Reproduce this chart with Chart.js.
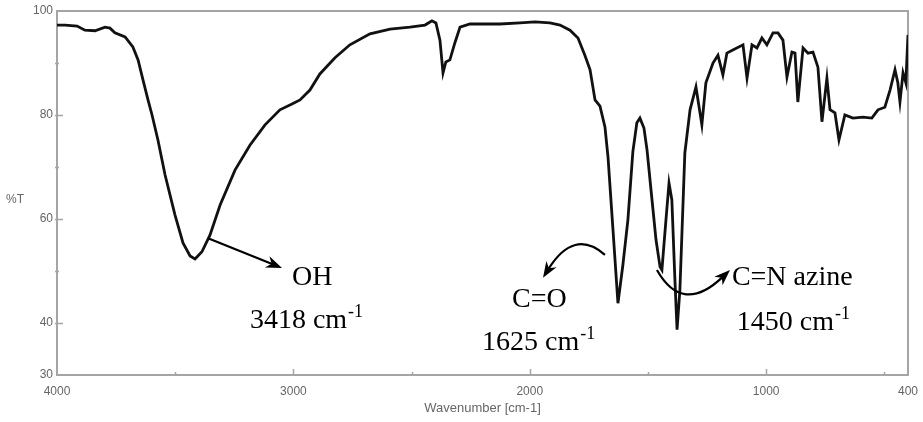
<!DOCTYPE html>
<html>
<head>
<meta charset="utf-8">
<script src="https://cdn.jsdelivr.net/npm/chart.js@4.4.0/dist/chart.umd.min.js"></script>
<style>
    body { margin: 0; background: #fff; }
    #wrap { width: 923px; height: 422px; position: relative; }
</style>
</head>
<body>
<div id="wrap"><canvas id="irChart"></canvas></div>
<script>
// IR spectrum
const wavenumber = [4000, 3966, 3915, 3882, 3839, 3797, 3776, 3755, 3712, 3679,
    3657, 3636, 3615, 3598, 3573, 3543, 3501, 3467, 3437, 3416,
    3387, 3353, 3310, 3247, 3184, 3120, 3057, 3006, 2972, 2930,
    2888, 2824, 2761, 2676, 2591, 2507, 2443, 2414, 2397, 2380,
    2367, 2355, 2338, 2316, 2295, 2253, 2126, 2041, 1978, 1915,
    1872, 1830, 1796, 1767, 1745, 1724, 1703, 1682, 1669, 1648,
    1627, 1606, 1585, 1564, 1547, 1534, 1517, 1504, 1483, 1466,
    1449, 1441, 1424, 1411, 1399, 1386, 1377, 1365, 1344, 1322,
    1297, 1272, 1255, 1225, 1204, 1183, 1166, 1141, 1098, 1081,
    1060, 1039, 1018, 997, 971, 950, 929, 912, 891, 878,
    866, 844, 823, 802, 781, 764, 743, 730, 709, 692,
    667, 633, 591, 553, 527, 498, 476, 455, 443, 434,
    421, 409, 403, 400];

const transmittance = [97.3, 97.3, 97.1, 96.3, 96.2, 96.9, 96.7, 95.8, 95.0, 93.1,
    90.6, 86.7, 82.9, 80.0, 75.2, 68.5, 60.8, 55.4, 52.9, 52.3,
    53.7, 56.9, 62.7, 69.4, 74.2, 78.1, 81.0, 82.1, 82.9, 84.8,
    87.9, 91.0, 93.5, 95.6, 96.5, 96.9, 97.3, 98.1, 97.7, 94.4,
    88.1, 90.2, 90.6, 94.0, 96.9, 97.5, 97.5, 97.7, 97.9, 97.7,
    97.3, 96.3, 94.8, 91.5, 88.7, 82.9, 81.7, 77.7, 71.9, 57.9,
    43.8, 51.2, 59.8, 72.9, 78.5, 79.4, 77.5, 73.3, 63.7, 56.0,
    50.8, 50.2, 59.8, 66.9, 63.7, 48.3, 38.7, 46.3, 72.7, 81.0,
    85.4, 78.1, 86.2, 90.0, 91.5, 87.7, 91.9, 92.5, 93.5, 87.1,
    93.5, 92.9, 94.8, 93.5, 95.8, 95.8, 94.4, 87.3, 92.1, 91.9,
    82.5, 92.9, 91.9, 92.1, 89.2, 78.7, 87.1, 81.0, 80.4, 75.2,
    80.0, 79.4, 79.6, 79.4, 81.0, 81.5, 84.8, 88.7, 86.2, 82.5,
    88.1, 86.2, 92.5, 95.4];

const xTicks = [4000, 3500, 3000, 2500, 2000, 1500, 1000, 500, 400];
const xLabels = [4000, 3000, 2000, 1000, 400];
const yTicks = [30, 40, 50, 60, 70, 80, 90, 100];
const yLabels = [30, 40, 60, 80, 100];

// peak labels, anchored in data units (wavenumber, %T)
const annotations = [
    { lines: [['OH', ''], ['3418 cm', '-1']], at: [[3006, 47.3], [3184, 39.0]],
      arrow: [[3361, 56.3], [3048, 50.6]] },
    { lines: [['C=O', ''], ['1625 cm', '-1']], at: [[2075, 43.1], [2202, 34.8]],
      arrow: [[1682, 53.1], [1813, 58.3], [1944, 48.7]] },
    { lines: [['C=N azine', ''], ['1450 cm', '-1']], at: [[1145, 47.3], [1124, 38.7]],
      arrow: [[1462, 50.2], [1354, 41.5], [1153, 50.2]] }
];

const tickFont = { family: 'Liberation Sans, Arial, sans-serif', size: 12 };
const tickColor = '#666';

function arrowHead(ctx, from, to) {
    const ang = Math.atan2(to[1] - from[1], to[0] - from[0]);
    const len = 16, half = 6;
    ctx.beginPath();
    ctx.moveTo(to[0], to[1]);
    ctx.lineTo(to[0] - len * Math.cos(ang) + half * Math.sin(ang), to[1] - len * Math.sin(ang) - half * Math.cos(ang));
    ctx.lineTo(to[0] - len * 0.7 * Math.cos(ang), to[1] - len * 0.7 * Math.sin(ang));
    ctx.lineTo(to[0] - len * Math.cos(ang) - half * Math.sin(ang), to[1] - len * Math.sin(ang) + half * Math.cos(ang));
    ctx.closePath();
    ctx.fill();
}

const framePlugin = {
    id: 'frame',
    beforeDatasetsDraw(chart) {
        const { ctx, chartArea: a, scales: { x, y } } = chart;
        ctx.save();
        ctx.strokeStyle = '#a5a5a5';
        ctx.lineWidth = 2;
        ctx.strokeRect(a.left, a.top, a.right - a.left, a.bottom - a.top);
        ctx.lineWidth = 1.5;
        ctx.beginPath();
        xTicks.forEach(function(v) {
            if (v === 4000 || v === 400) return;
            const px = Math.round(x.getPixelForValue(v)) + 0.5;
            const len = v % 1000 === 0 ? 6 : 3;
            ctx.moveTo(px, a.bottom);
            ctx.lineTo(px, a.bottom - len);
        });
        yTicks.forEach(function(v) {
            if (v === 30 || v === 100) return;
            const py = Math.round(y.getPixelForValue(v)) + 0.5;
            const len = yLabels.includes(v) ? 6 : 2;
            ctx.moveTo(a.left - 2, py);
            ctx.lineTo(a.left + len, py);
        });
        ctx.stroke();
        ctx.restore();
    },
    afterDraw(chart) {
        const { ctx, chartArea: a, scales: { x, y } } = chart;
        ctx.save();
        // axis titles
        ctx.fillStyle = tickColor;
        ctx.font = '12px Liberation Sans, Arial, sans-serif';
        ctx.textBaseline = 'middle';
        ctx.textAlign = 'left';
        ctx.fillText('%T', 6, 200);
        ctx.textAlign = 'center';
        ctx.font = '13px Liberation Sans, Arial, sans-serif';
        ctx.fillText('Wavenumber [cm-1]', (a.left + a.right) / 2, 408);

        // peak annotations
        ctx.fillStyle = '#000';
        ctx.strokeStyle = '#000';
        ctx.lineWidth = 2.2;
        ctx.textAlign = 'left';
        ctx.textBaseline = 'alphabetic';
        annotations.forEach(function(an) {
            an.lines.forEach(function(ln, i) {
                const px = x.getPixelForValue(an.at[i][0]);
                const py = y.getPixelForValue(an.at[i][1]);
                ctx.font = '28px Liberation Serif, Times New Roman, serif';
                ctx.fillText(ln[0], px, py);
                if (ln[1]) {
                    const w = ctx.measureText(ln[0]).width;
                    ctx.font = '18px Liberation Serif, Times New Roman, serif';
                    ctx.fillText(ln[1], px + w + 1, py - 11);
                }
            });
            const pts = an.arrow.map(function(p) {
                return [x.getPixelForValue(p[0]), y.getPixelForValue(p[1])];
            });
            const end = pts[pts.length - 1];
            const prev = pts[pts.length - 2];
            // stop the shaft a little short of the tip
            const ang = Math.atan2(end[1] - prev[1], end[0] - prev[0]);
            const stop = [end[0] - 10 * Math.cos(ang), end[1] - 10 * Math.sin(ang)];
            ctx.beginPath();
            ctx.moveTo(pts[0][0], pts[0][1]);
            if (pts.length === 3) {
                ctx.quadraticCurveTo(pts[1][0], pts[1][1], stop[0], stop[1]);
            } else {
                ctx.lineTo(stop[0], stop[1]);
            }
            ctx.stroke();
            arrowHead(ctx, prev, end);
        });
        ctx.restore();
    }
};

const ctx = document.getElementById('irChart');
new Chart(ctx, {
    type: 'line',
    data: {
        datasets: [{
            data: wavenumber.map(function(w, i) { return { x: w, y: transmittance[i] }; }),
            borderColor: '#111',
            borderWidth: 2.8,
            pointRadius: 0,
            tension: 0,
            fill: false
        }]
    },
    options: {
        responsive: true,
        maintainAspectRatio: false,
        animation: false,
        layout: { padding: { top: 11, right: 15, left: 0, bottom: 0 } },
        plugins: {
            legend: { display: false },
            tooltip: { enabled: false }
        },
        scales: {
            x: {
                type: 'linear',
                reverse: true,
                min: 400,
                max: 4000,
                afterBuildTicks: function(scale) {
                    scale.ticks = xTicks.map(function(v) { return { value: v }; });
                },
                afterFit: function(scale) {
                    scale.height = 47;
                    scale.paddingLeft = 0;
                    scale.paddingRight = 0;
                },
                ticks: {
                    autoSkip: false,
                    maxRotation: 0,
                    padding: 9,
                    font: tickFont,
                    color: tickColor,
                    callback: function(v) { return xLabels.includes(v) ? String(v) : ''; }
                },
                grid: { display: false, drawTicks: false },
                border: { display: false }
            },
            y: {
                min: 30,
                max: 100,
                afterBuildTicks: function(scale) {
                    scale.ticks = yTicks.map(function(v) { return { value: v }; });
                },
                afterFit: function(scale) {
                    scale.width = 57;
                    scale.paddingTop = 0;
                    scale.paddingBottom = 0;
                },
                ticks: {
                    autoSkip: false,
                    padding: 4,
                    font: tickFont,
                    color: tickColor,
                    callback: function(v) { return yLabels.includes(v) ? String(v) : ''; }
                },
                grid: { display: false, drawTicks: false },
                border: { display: false }
            }
        }
    },
    plugins: [framePlugin]
});
</script>
</body>
</html>
